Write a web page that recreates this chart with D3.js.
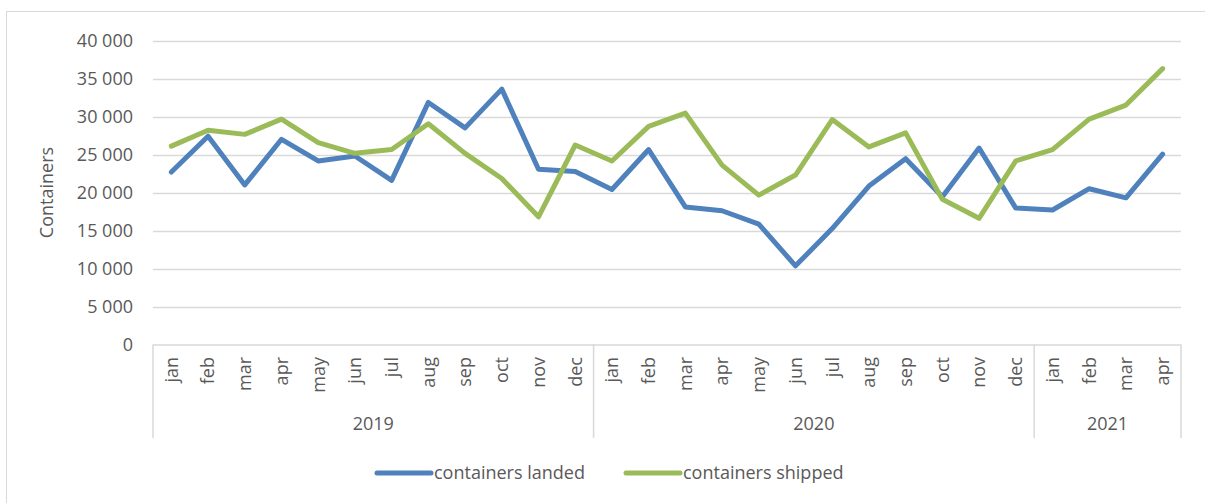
<!DOCTYPE html>
<html>
<head>
<meta charset="utf-8">
<script src="https://cdn.jsdelivr.net/npm/d3@7"></script>
<style>
  html, body { margin: 0; padding: 0; background: #fff; }
  svg text { font-family: "Open Sans", "Noto Sans", sans-serif; fill: #595959; }
</style>
</head>
<body>
<svg id="chart" width="1205" height="503"></svg>
<script>
// ---- data ----
const months = ["jan","feb","mar","apr","may","jun","jul","aug","sep","oct","nov","dec",
                "jan","feb","mar","apr","may","jun","jul","aug","sep","oct","nov","dec",
                "jan","feb","mar","apr"];
const years = ["2019","2020","2021"];
const yearCounts = [12, 12, 4];
const landed = [22700, 27400, 21000, 27000, 24150, 24800, 21600, 31850, 28500, 33600, 23050, 22750,
                20400, 25650, 18100, 17600, 15850, 10350, 15250, 20850, 24450, 19450,
                25850, 17950, 17700, 20500, 19300, 25050];
const shipped = [26100, 28200, 27650, 29650, 26550, 25150, 25650, 29050, 25150, 21850, 16800, 26250,
                 24150, 28700, 30450, 23600, 19650, 22300, 29600, 26000, 27850, 19100,
                 16600, 24150, 25650, 29650, 31500, 36300];
const yTicks = [0, 5000, 10000, 15000, 20000, 25000, 30000, 35000, 40000];
const seriesNames = ["containers landed", "containers shipped"];
const seriesColors = ["#4f81bd", "#9bbb59"];

// ---- layout ----
const svg = d3.select("#chart");
const pLeft = 153, pRight = 1181, pTop = 40.5, pBottom = 344.5;
const fs = "18px";
const idx = d3.range(months.length);

const x = d3.scaleBand().domain(idx).range([pLeft, pRight]).padding(0);
const y = d3.scaleLinear().domain([0, 40000]).range([pBottom, pTop]);
const fmt = d3.formatLocale({decimal: ",", thousands: "\u00a0", grouping: [3], currency: ["", ""]}).format(",d");

// outer border
svg.append("rect").attr("x", 6.5).attr("y", 11.5).attr("width", 1210).attr("height", 500)
  .attr("fill", "none").attr("stroke", "#d9d9d9").attr("stroke-width", 1);

// gridlines
svg.append("g").selectAll("line").data(yTicks.filter(d => d > 0)).join("line")
  .attr("x1", pLeft).attr("x2", pRight)
  .attr("y1", d => Math.round(y(d)) + 0.5).attr("y2", d => Math.round(y(d)) + 0.5)
  .attr("stroke", "#d9d9d9").attr("stroke-width", 1.5);

// y tick labels
svg.append("g").selectAll("text").data(yTicks).join("text")
  .attr("x", 133).attr("y", d => y(d)).attr("dy", "0.35em")
  .attr("text-anchor", "end").attr("font-size", fs)
  .text(d => fmt(d));

// y axis title
svg.append("text")
  .attr("transform", `translate(53, ${(pTop + pBottom) / 2}) rotate(-90)`)
  .attr("text-anchor", "middle").attr("font-size", fs)
  .text("Containers");

// category axis line
const axisBottom = 438;
svg.append("line").attr("x1", pLeft).attr("x2", pRight).attr("y1", pBottom + 0.5).attr("y2", pBottom + 0.5)
  .attr("stroke", "#d9d9d9").attr("stroke-width", 1.5);

// year dividers
let cum = 0;
const divs = [0];
yearCounts.forEach(c => { cum += c; divs.push(cum); });
svg.append("g").selectAll("line").data(divs).join("line")
  .attr("x1", d => d < months.length ? x(d) : pRight)
  .attr("x2", d => d < months.length ? x(d) : pRight)
  .attr("y1", pBottom).attr("y2", axisBottom)
  .attr("stroke", "#d9d9d9").attr("stroke-width", 1.5);

// month labels
svg.append("g").selectAll("text").data(idx).join("text")
  .attr("transform", i => `translate(${x(i) + x.bandwidth() / 2}, 357) rotate(-90)`)
  .attr("text-anchor", "end").attr("dy", "0.35em").attr("font-size", fs)
  .text(i => months[i]);

// year labels
svg.append("g").selectAll("text").data(years).join("text")
  .attr("x", (d, i) => {
    const a = divs[i], b = divs[i + 1];
    const x0 = x(a), x1 = b < months.length ? x(b) : pRight;
    return (x0 + x1) / 2;
  })
  .attr("y", 424).attr("dy", "0.35em").attr("text-anchor", "middle").attr("font-size", fs)
  .text(d => d);

// lines
const line = d3.line().x((d, i) => x(i) + x.bandwidth() / 2).y(d => y(d));
[landed, shipped].forEach((s, k) => {
  svg.append("path").datum(s).attr("d", line)
    .attr("fill", "none").attr("stroke", seriesColors[k]).attr("stroke-width", 5)
    .attr("stroke-linejoin", "round").attr("stroke-linecap", "round");
});

// legend
const legendX = [377, 626];
seriesNames.forEach((n, k) => {
  const g = svg.append("g").attr("transform", `translate(${legendX[k]}, 473)`);
  g.append("line").attr("x1", 0).attr("x2", 54).attr("y1", 0).attr("y2", 0)
    .attr("stroke", seriesColors[k]).attr("stroke-width", 5).attr("stroke-linecap", "round");
  g.append("text").attr("x", 57).attr("y", 0).attr("dy", "0.35em").attr("font-size", fs).text(n);
});
</script>
</body>
</html>
